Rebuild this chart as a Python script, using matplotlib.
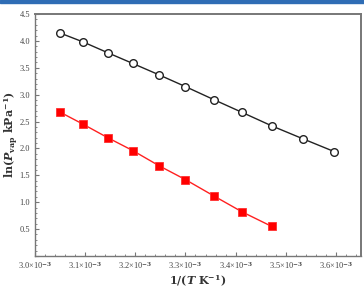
import matplotlib
matplotlib.use("Agg")
import matplotlib.pyplot as plt
from matplotlib.ticker import FuncFormatter, MultipleLocator
from matplotlib.patches import Rectangle

# 1/T values (K^-1) and ln(Pvap)
inv_t_open = [3.049e-3, 3.096e-3, 3.145e-3, 3.195e-3, 3.247e-3, 3.300e-3,
              3.356e-3, 3.413e-3, 3.472e-3, 3.534e-3, 3.597e-3]
ln_p_open = [4.15, 3.98, 3.78, 3.58, 3.37, 3.15, 2.91, 2.67, 2.42, 2.18, 1.94]

inv_t_red = [3.049e-3, 3.096e-3, 3.145e-3, 3.195e-3, 3.247e-3, 3.300e-3,
             3.356e-3, 3.413e-3, 3.472e-3]
ln_p_red = [2.68, 2.45, 2.20, 1.96, 1.68, 1.42, 1.12, 0.82, 0.55]

plt.rcParams['font.family'] = ['DejaVu Serif']
plt.rcParams['mathtext.fontset'] = 'custom'
plt.rcParams['mathtext.rm'] = 'DejaVu Serif:bold'
plt.rcParams['mathtext.it'] = 'DejaVu Serif:italic:bold'
plt.rcParams['mathtext.bf'] = 'DejaVu Serif:bold'

fig = plt.figure(figsize=(3.64, 2.88), dpi=100)
ax = fig.add_axes([35 / 364, 1 - 256 / 288, 326 / 364, 242 / 288])

# blue rule across the top of the image
fig.patches.append(Rectangle((0, 1 - 2.5 / 288), 1, 2.5 / 288, transform=fig.transFigure,
                             color='#2f6db5', zorder=10))

ax.plot(inv_t_open, ln_p_open, color='#222222', lw=1.0, marker='o', ms=5.5,
        mfc='white', mec='#222222', mew=1.0)
ax.plot(inv_t_red, ln_p_red, color='#ff2020', lw=1.0, marker='s', ms=5.5,
        mfc='red', mec='#ff3030', mew=0.6)

ax.set_xlim(3.0e-3, 3.65e-3)
ax.set_ylim(0, 4.5)
ax.xaxis.set_major_locator(MultipleLocator(0.1e-3))
ax.xaxis.set_minor_locator(MultipleLocator(0.02e-3))
ax.yaxis.set_major_locator(MultipleLocator(0.5))
ax.yaxis.set_minor_locator(MultipleLocator(0.1))


def sci(v, pos):
    return '%.1f×10$^{-3}$' % (v * 1e3)


def yfmt(v, pos):
    return '' if abs(v) < 1e-9 else '%.1f' % v


ax.xaxis.set_major_formatter(FuncFormatter(sci))
ax.yaxis.set_major_formatter(FuncFormatter(yfmt))
for lab in ax.get_xticklabels() + ax.get_yticklabels():
    lab.set_family('Liberation Serif')

for s in ax.spines.values():
    s.set_color('#777777')
    s.set_linewidth(1.0)
ax.spines['top'].set_linewidth(1.4)
ax.spines['right'].set_linewidth(1.4)

ax.tick_params(which='both', direction='in', colors='#777777', labelcolor='#444444',
               labelsize=6, top=False, right=False)
ax.tick_params(which='major', length=3, width=0.8)
ax.tick_params(which='minor', length=1.5, width=0.6)

ax.set_xlabel(r'1/($T$ K$^{-1}$)', fontsize=8, fontweight='bold',
              color='#333333', labelpad=1)
ax.set_ylabel(r'ln($P_{\mathrm{vap}}$ kPa$^{-1}$)', fontsize=8,
              fontweight='bold', color='#333333', labelpad=-1)

fig.savefig('out.png', dpi=100)
